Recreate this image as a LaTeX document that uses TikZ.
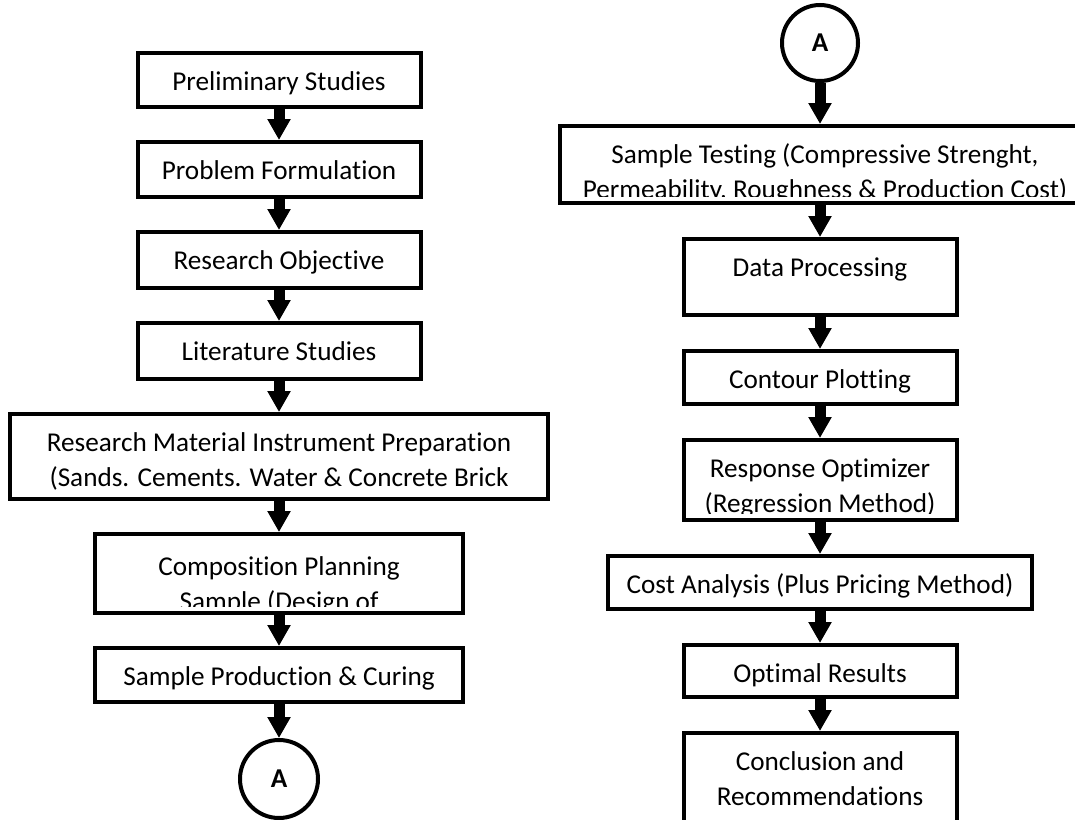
\documentclass[tikz,border=0pt]{standalone}
\usepackage{fontspec}
\setmainfont{Carlito}[Ligatures=NoCommon]
\usetikzlibrary{arrows.meta,positioning}
\newcommand\flowfont{\fontsize{27.2pt}{35pt}\selectfont}
\tikzset{
  first base/.store in=\firstbase, first base=37pt,
  stage/.style={rectangle, draw, line width=4pt, inner sep=0pt},
  lines/.style={path picture={
      \clip ([yshift=7pt]path picture bounding box.south west) rectangle (path picture bounding box.north east);
      \node[anchor=base, inner sep=0pt, minimum size=0pt, font=\flowfont]
        at ([yshift=-\firstbase]path picture bounding box.north)
        {\begin{tabular}[t]{@{}c@{}}#1\end{tabular}};}},
  joint/.style={circle, draw, line width=4pt, inner sep=0pt, minimum size=78pt, font=\flowfont\bfseries},
  arr/.style={-{Triangle[width=22pt,length=21pt]}, line width=11pt},
}
\begin{document}
\begin{tikzpicture}[node distance=31pt]
  \useasboundingbox (0,0) rectangle (1075pt,-819pt);
  % left column
  \node[stage, minimum width=283pt, minimum height=54pt, lines={Preliminary Studies}] (prel) at (279pt,-80pt) {};
  \node[stage, minimum width=283pt, minimum height=55pt, lines={Problem Formulation}, below=of prel] (prob) {};
  \node[stage, minimum width=283pt, minimum height=56pt, lines={Research Objective}, below=of prob] (obj) {};
  \node[stage, minimum width=283pt, minimum height=56pt, lines={Literature Studies}, below=of obj] (lit) {};
  \node[stage, minimum width=538pt, minimum height=85pt,
        lines={Research Material Instrument Preparation\\(Sands. Cements. Water \& Concrete Brick}, below=of lit] (rmat) {};
  \node[stage, minimum width=368pt, minimum height=79pt, first base=41pt,
        lines={Composition Planning\\Sample (Design of}, below=of rmat] (comp) {};
  \node[stage, minimum width=368pt, minimum height=54pt, lines={Sample Production \& Curing}, below=of comp] (prod) {};
  \node[joint, below=34pt of prod] (outA) {A};
  \draw[arr] (prel) -- (prob); \draw[arr] (prob) -- (obj); \draw[arr] (obj) -- (lit);
  \draw[arr] (lit) -- (rmat); \draw[arr] (rmat) -- (comp); \draw[arr] (comp) -- (prod);
  \draw[arr] (prod) -- (outA);
  % right column
  \node[joint, minimum size=76pt] (inA) at (820pt,-43pt) {A};
  \node[stage, minimum width=530pt, minimum height=77pt, xshift=5pt,
        lines={Sample Testing (Compressive Strenght,\\Permeability, Roughness \& Production Cost)}, below=41pt of inA] (test) {};
  \node[stage, minimum width=273pt, minimum height=76pt, lines={Data Processing}, below=32pt of inA |- test.south] (proc) {};
  \node[stage, minimum width=273pt, minimum height=53pt, lines={Contour Plotting}, below=32pt of proc] (cont) {};
  \node[stage, minimum width=273pt, minimum height=80pt,
        lines={Response Optimizer\\(Regression Method)}, below=32pt of cont] (resp) {};
  \node[stage, minimum width=424pt, minimum height=53pt, lines={Cost Analysis (Plus Pricing Method)}, below=32pt of resp] (cost) {};
  \node[stage, minimum width=273pt, minimum height=52pt, lines={Optimal Results}, below=32pt of cost] (opt) {};
  \node[stage, minimum width=273pt, minimum height=96pt,
        lines={Conclusion and\\Recommendations}, below=32pt of opt] (concl) {};
  \draw[arr] (inA) -- (inA |- test.north); \draw[arr] (proc |- test.south) -- (proc);
  \draw[arr] (proc) -- (cont);
  \draw[arr] (cont) -- (resp); \draw[arr] (resp) -- (cost); \draw[arr] (cost) -- (opt);
  \draw[arr] (opt) -- (concl);
\end{tikzpicture}
\end{document}
